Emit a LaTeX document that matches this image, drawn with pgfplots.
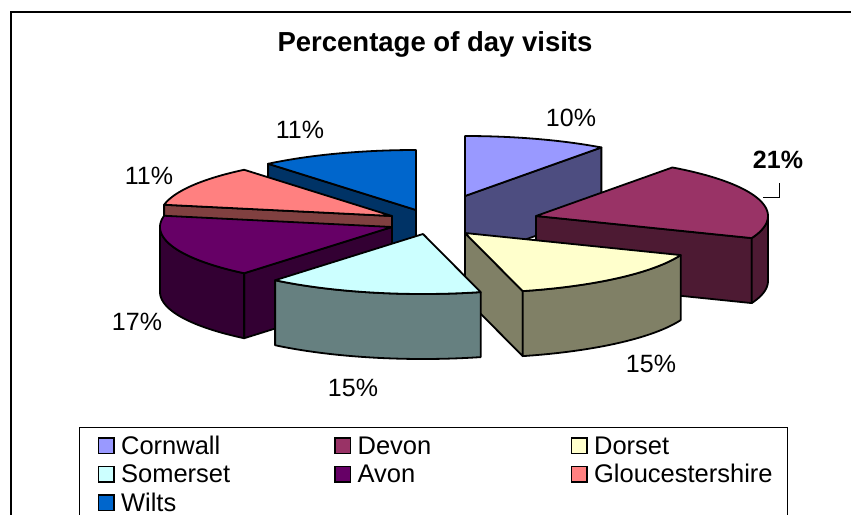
\documentclass[border=0pt]{standalone}
\usepackage{pgfplots}
\pgfplotsset{compat=1.18}
\usepackage{fontspec}
\setmainfont{Liberation Sans}

\definecolor{cornT}{HTML}{9999FF}\definecolor{cornS}{HTML}{4D4D80}
\definecolor{devT}{HTML}{993366}\definecolor{devS}{HTML}{4D1A33}
\definecolor{dorT}{HTML}{FFFFCC}\definecolor{dorS}{HTML}{808066}
\definecolor{somT}{HTML}{CCFFFF}\definecolor{somS}{HTML}{668080}
\definecolor{avonT}{HTML}{660066}\definecolor{avonS}{HTML}{330033}
\definecolor{glouT}{HTML}{FF8080}\definecolor{glouS}{HTML}{804040}
\definecolor{wiltsT}{HTML}{0066CC}\definecolor{wiltsS}{HTML}{003366}

\newcommand{\RX}{232}
\newcommand{\RY}{60}
\newcommand{\DP}{65}
\newcommand{\lbl}{\fontsize{25bp}{28bp}\selectfont}
\newcommand{\lgd}{\fontsize{25.5bp}{28bp}\selectfont}
\pgfplotsset{slicestyle/.style={draw=black, line width=1.8bp, line join=round, line cap=round, forget plot, variable=\t}}

% top face: apex x, apex y, start angle, end angle, colour
\newcommand{\topface}[5]{%
  \addplot[slicestyle, fill=#5, samples at={0,...,42}]
  ({ifthenelse((\t<0.5) || (\t>41.5), #1, #1+\RX*cos((#3)+((#4)-(#3))*(\t-1)/40))},
   {ifthenelse((\t<0.5) || (\t>41.5), #2, #2-\RY*sin((#3)+((#4)-(#3))*(\t-1)/40))});}
% radial side face: apex x, apex y, angle, colour
\newcommand{\radial}[4]{%
  \addplot[slicestyle, fill=#4, samples at={0,...,4}]
  ({#1+ifthenelse((\t>0.5) && (\t<2.5), \RX*cos(#3), 0)},
   {#2-ifthenelse((\t>0.5) && (\t<2.5), \RY*sin(#3), 0)+ifthenelse((\t>1.5) && (\t<3.5), \DP, 0)});}
% outer curved face: apex x, apex y, angle 1, angle 2, colour
\newcommand{\rimface}[5]{%
  \addplot[slicestyle, fill=#5, samples at={0,...,82}]
  ({#1+\RX*cos(ifthenelse(\t<40.5, (#3)+((#4)-(#3))*\t/40, ifthenelse(\t<81.5, (#4)+((#3)-(#4))*(\t-41)/40, #3)))},
   {#2-\RY*sin(ifthenelse(\t<40.5, (#3)+((#4)-(#3))*\t/40, ifthenelse(\t<81.5, (#4)+((#3)-(#4))*(\t-41)/40, #3)))+ifthenelse((\t>40.5) && (\t<81.5), \DP, 0)});}

\begin{document}
\begin{tikzpicture}
\useasboundingbox (0,0) rectangle (851bp,515bp);
\clip (0,0) rectangle (851bp,515bp);
\begin{axis}[
  at={(0,0)}, anchor=south west,
  scale only axis, width=851bp, height=515bp,
  xmin=0, xmax=851, ymin=0, ymax=515, y dir=reverse,
  hide axis,
  legend columns=3,
  legend cell align=left,
  legend image code/.code={\draw[#1, draw=black, line width=1.5bp] (0bp,-7.75bp) rectangle (15.5bp,7.75bp);},
  legend style={at={(axis cs:79,427)}, anchor=north west, draw=black, line width=1.2bp, fill=white,
    inner xsep=18bp, inner ysep=3.75bp, row sep=0bp, column sep=0bp,
    nodes={inner sep=0bp, text height=23bp, text depth=5.5bp, font=\lgd}},
]
% legend entries (order of the series)
\addlegendimage{fill=cornT}\addlegendentry{\makebox[219.5bp][l]{\hspace{6.5bp}Cornwall}}
\addlegendimage{fill=devT}\addlegendentry{\makebox[219.5bp][l]{\hspace{6.5bp}Devon}}
\addlegendimage{fill=dorT}\addlegendentry{\makebox[182bp][l]{\hspace{6.5bp}Dorset}}
\addlegendimage{fill=somT}\addlegendentry{\makebox[219.5bp][l]{\hspace{6.5bp}Somerset}}
\addlegendimage{fill=avonT}\addlegendentry{\makebox[219.5bp][l]{\hspace{6.5bp}Avon}}
\addlegendimage{fill=glouT}\addlegendentry{\makebox[182bp][l]{\hspace{6.5bp}Gloucestershire}}
\addlegendimage{fill=wiltsT}\addlegendentry{\makebox[219.5bp][l]{\hspace{6.5bp}Wilts}}

% chart frame
\addplot[forget plot, black, line width=1.6bp] coordinates {(11,530) (11,12) (870,12)};

% percentages: Cornwall 10, Devon 21, Dorset 15, Somerset 15, Avon 17, Gloucestershire 11, Wilts 11
% angle = 90 - 3.6 * cumulative percentage
% Cornwall (0 -> 10)
\radial{465}{196}{90-3.6*10}{cornS}
\topface{465}{196}{90-3.6*0}{90-3.6*10}{cornT}
% Wilts (89 -> 100)
\radial{416}{210}{90-3.6*89}{wiltsS}
\topface{416}{210}{90-3.6*89}{90-3.6*100}{wiltsT}
% Gloucestershire (78 -> 89)
\radial{392}{216}{90-3.6*78}{glouS}
\topface{392}{216}{90-3.6*78}{90-3.6*89}{glouT}
% Devon (10 -> 31)
\radial{536}{216}{90-3.6*31}{devS}
\rimface{536}{216}{0}{90-3.6*31}{devS}
\topface{536}{216}{90-3.6*10}{90-3.6*31}{devT}
% Avon (61 -> 78)
\radial{392}{227}{90-3.6*61}{avonS}
\rimface{392}{227}{90-3.6*61}{-180}{avonS}
\topface{392}{227}{90-3.6*61}{90-3.6*78}{avonT}
% Dorset (31 -> 46)
\radial{465}{233}{90-3.6*46}{dorS}
\rimface{465}{233}{90-3.6*31}{90-3.6*46}{dorS}
\topface{465}{233}{90-3.6*31}{90-3.6*46}{dorT}
% Somerset (46 -> 61)
\rimface{423}{234}{90-3.6*46}{90-3.6*61}{somS}
\topface{423}{234}{90-3.6*46}{90-3.6*61}{somT}

% leader line for Devon
\addplot[forget plot, black, line width=1bp] coordinates {(779,183) (779,197) (763,197)};

% title and labels
\node[font=\bfseries\fontsize{27.5bp}{30bp}\selectfont, anchor=base] at (axis cs:435,52) {Percentage of day visits};
\node[font=\lbl] at (axis cs:571,118) {10\%};
\node[font=\lbl\bfseries] at (axis cs:778,160) {21\%};
\node[font=\lbl] at (axis cs:651,364) {15\%};
\node[font=\lbl] at (axis cs:353,388) {15\%};
\node[font=\lbl] at (axis cs:137,322) {17\%};
\node[font=\lbl] at (axis cs:149,176) {11\%};
\node[font=\lbl] at (axis cs:300,130) {11\%};
\end{axis}
\end{tikzpicture}
\end{document}
